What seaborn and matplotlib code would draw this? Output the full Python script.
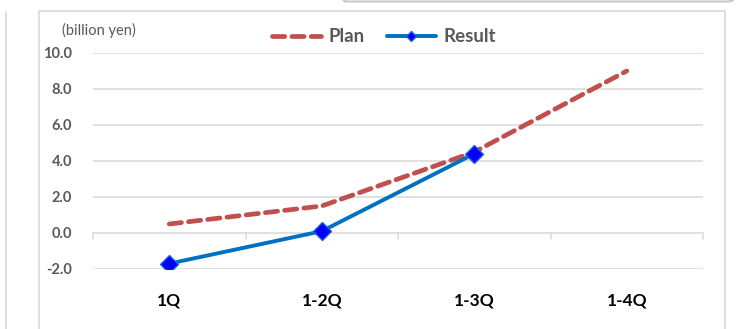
import matplotlib
matplotlib.use("Agg")
import matplotlib.pyplot as plt
import seaborn as sns
import pandas as pd
from matplotlib.patches import FancyBboxPatch, Rectangle
from matplotlib.lines import Line2D

# Cumulative operating figures (billion yen)
periods = ["1Q", "1-2Q", "1-3Q", "1-4Q"]
plan = [0.5, 1.5, 4.5, 9.0]
result = [-1.7, 0.1, 4.4]
yticks = [-2.0, 0.0, 2.0, 4.0, 6.0, 8.0, 10.0]

sns.set_theme(style="white")
plt.rcParams["font.family"] = ["Lato", "DejaVu Sans"]

W, H = 751, 329
fig = plt.figure(figsize=(W / 100, H / 100), dpi=100)

def fx(px):
    return px / W

def fy(py):
    return 1 - py / H

# Outer panel decorations
fig.add_artist(Rectangle((fx(38.5), fy(340)), fx(724.5) - fx(38.5), fy(10.5) - fy(340),
                         transform=fig.transFigure, fill=False, edgecolor="#D9D9D9", lw=1.2))
fig.add_artist(Line2D([fx(5.5), fx(5.5)], [fy(12), fy(340)], transform=fig.transFigure,
                      color="#D9D9D9", lw=1.2))
fig.add_artist(FancyBboxPatch((fx(338), fy(1.5)), fx(734) - fx(338), 0.2,
                              boxstyle="round,pad=0,rounding_size=0.01",
                              transform=fig.transFigure, fill=False,
                              edgecolor="#C8C8C8", lw=1.5))

ax = fig.add_axes([fx(93), fy(269), fx(703) - fx(93), fy(53) - fy(269)])

df_plan = pd.DataFrame({"period": periods, "value": plan})
df_res = pd.DataFrame({"period": periods[:len(result)], "value": result})

sns.lineplot(data=df_plan, x="period", y="value", ax=ax, color="#C0504D", lw=3.4,
             linestyle=(0, (2.6, 1.5)), dash_capstyle="round", label="Plan", zorder=3)
sns.lineplot(data=df_res, x="period", y="value", ax=ax, color="#0070C0", lw=2.8,
             marker="D", markersize=9.5, markerfacecolor="#0000FF",
             markeredgecolor="#1F5FE0", markeredgewidth=1.0, label="Result", zorder=4)

ax.set_xlim(-0.5, len(periods) - 0.5)
ax.set_ylim(-2, 10)
ax.set_yticks(yticks)
ax.set_yticklabels([f"{v:.1f}" for v in yticks], fontsize=10.5, fontweight="bold", color="#595959")
ax.set_xticks(range(len(periods)))
ax.set_xticklabels(periods, fontsize=12.5, fontweight="bold", color="#000000")
ax.tick_params(axis="x", length=0, pad=17)
ax.tick_params(axis="y", length=0, pad=15)
ax.set_xlabel("")
ax.set_ylabel("")
for s in ax.spines.values():
    s.set_visible(False)

# Horizontal gridlines and the category axis at zero
for v in yticks:
    ax.axhline(v, color="#D9D9D9", lw=1.1, zorder=1)
for b in [i - 0.5 for i in range(len(periods) + 1)]:
    ax.plot([b, b], [0, -0.35], color="#D9D9D9", lw=1.1, zorder=1, clip_on=False)

leg = ax.legend(loc="center", bbox_to_anchor=(0.477, 1 + 16 / 216), ncol=2, frameon=False,
                prop={"weight": "bold", "size": 13.5}, handlelength=2.6,
                columnspacing=1.2, handletextpad=0.4, borderaxespad=0.0)
for t in leg.get_texts():
    t.set_color("#595959")
for h in leg.legend_handles:
    if h.get_label() == "Result":
        h.set_markersize(5)

fig.text(fx(62), fy(30), "(billion yen)", fontsize=10.5, color="#595959", va="center", ha="left")

fig.savefig("out.png", dpi=100)
